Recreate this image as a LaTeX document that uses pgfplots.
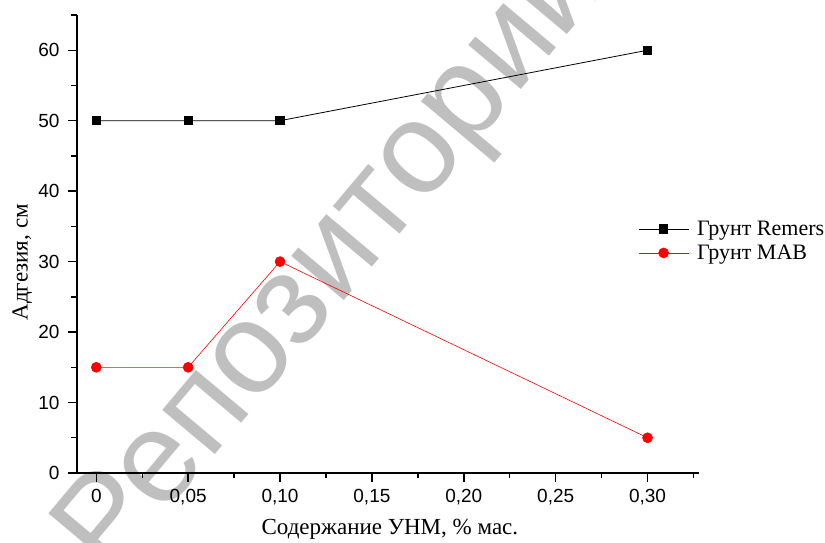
\documentclass[border=0pt]{standalone}
\usepackage{fontspec}
\setmainfont{Liberation Serif}
\newfontfamily\arialf{Liberation Sans}
\usepackage{pgfplots}
\pgfplotsset{compat=1.18}
\begin{document}
\begin{tikzpicture}[x=1pt,y=1pt]
\useasboundingbox (-77,-70) rectangle (748,473);
\node[rotate=50, text=black!25, font=\arialf\fontsize{130}{130}\selectfont] at (256,213) {Репозиторий};
\begin{axis}[
  at={(0pt,0pt)}, anchor=south west,
  scale only axis, width=622pt, height=458pt,
  xmin=-0.0105, xmax=0.328, ymin=0, ymax=65,
  axis x line*=bottom, axis y line*=left,
  axis line style={line width=1.6pt, -},
  xtick={0,0.05,0.10,0.15,0.20,0.25,0.30},
  xticklabels={0,{0,05},{0,10},{0,15},{0,20},{0,25},{0,30}},
  minor xtick={0.025,0.075,0.125,0.175,0.225,0.275,0.325},
  ytick={0,10,20,30,40,50,60},
  minor ytick={5,15,25,35,45,55,65},
  tick align=outside,
  major tick length=9pt, minor tick length=5.5pt,
  every tick/.style={black, line width=1.4pt},
  /pgf/number format/assume math mode=true,
  tick label style={font=\arialf\fontsize{19}{19}\selectfont},
  xticklabel style={yshift=-4pt},
  yticklabel style={xshift=-5pt},
  xlabel={Содержание УНМ, \% мас.},
  ylabel={Адгезия, см},
  label style={font=\fontsize{23}{23}\selectfont},
  xlabel style={at={(axis description cs:0.503,-0.124)}, anchor=center},
  ylabel style={at={(axis description cs:-0.088,0.46)}, anchor=center},
  legend style={draw=none, fill=none, at={(rel axis cs:0.902,0.5066)}, anchor=west,
    inner sep=0pt, font=\fontsize{22}{22}\selectfont, row sep=4pt,
    /tikz/every odd column/.append style={column sep=6pt}},
  legend cell align=left,
  legend image code/.code={
    \draw[mark repeat=2, mark phase=2, #1] plot coordinates {(0pt,0pt) (25pt,0pt) (50pt,0pt)};
  },
]
\addplot[black, line width=0.8pt, mark=square*, mark size=4.2pt, mark options={solid}] coordinates {
  (0,50) (0.05,50) (0.10,50) (0.30,60)
};
\addlegendentry{Грунт Remers}
\addplot[red, line width=0.6pt, mark=*, mark size=5pt, mark options={solid, fill=red}] coordinates {
  (0,15) (0.05,15) (0.10,30) (0.30,5)
};
\addlegendentry{Грунт MAB}
\end{axis}
\end{tikzpicture}
\end{document}
